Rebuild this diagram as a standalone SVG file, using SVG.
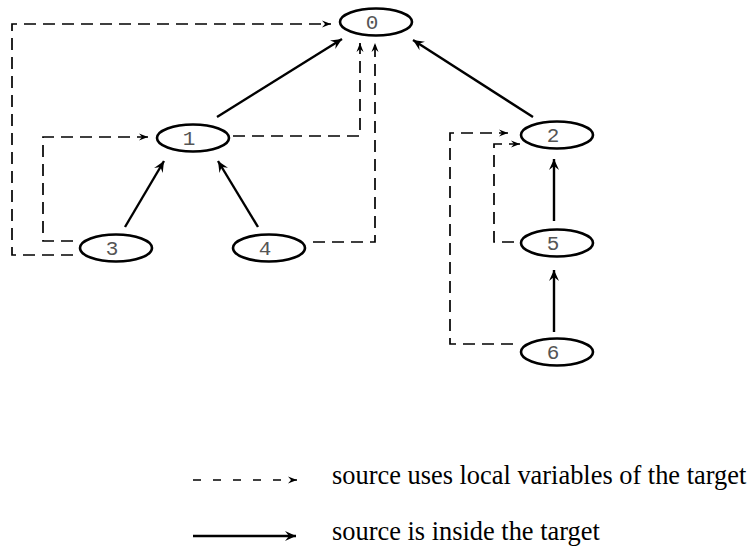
<svg xmlns="http://www.w3.org/2000/svg" width="751" height="546" viewBox="0 0 751 546">
<style>
.node ellipse{fill:#fff;stroke:#000;stroke-width:2.6}
.node text{font-family:"Liberation Mono","DejaVu Sans Mono",monospace;font-size:21px;fill:#555;text-anchor:middle}
.solid{fill:none;stroke:#000;stroke-width:2.4;marker-end:url(#hs)}
.dash{fill:none;stroke:#000;stroke-width:1.7;stroke-dasharray:12 7;marker-end:url(#hd)}
.legend{font-family:"Liberation Serif","Times New Roman",serif;font-size:26.4px;fill:#000}
</style>
<defs>
<marker id="hs" markerUnits="userSpaceOnUse" viewBox="-12 -6 13 12" refX="0" refY="0" markerWidth="13" markerHeight="12" orient="auto">
<path d="M0,0 L-11,-5 L-7,0 L-11,5 Z" fill="#000"/>
</marker>
<marker id="hd" markerUnits="userSpaceOnUse" viewBox="-10 -5 11 10" refX="0" refY="0" markerWidth="11" markerHeight="10" orient="auto">
<path d="M0,0 L-9,-3.5 L-6,0 L-9,3.5 Z" fill="#000"/>
</marker>
</defs>
<g id="connectors">
<path class="solid" d="M217,117 L342,39"/>
<path class="solid" d="M533,117 L413,40"/>
<path class="solid" d="M125,227 L164,161"/>
<path class="solid" d="M258,227 L218,161"/>
<path class="solid" d="M554,221 L554,159"/>
<path class="solid" d="M554,332 L554,270"/>
<path class="dash" d="M73,255 H12 V24 H331"/>
<path class="dash" d="M73,241 H43 V137 H148"/>
<path class="dash" d="M233,136 H360 V43"/>
<path class="dash" d="M313,242 H375 V43"/>
<path class="dash" d="M514,242 H494 V144 H520"/>
<path class="dash" d="M513,344 H450 V133 H508"/>
</g>
<g id="n0" class="node"><ellipse cx="376" cy="22" rx="36" ry="13.5"/><text x="372" y="29">0</text></g>
<g id="n1" class="node"><ellipse cx="193" cy="138" rx="36" ry="13.5"/><text x="189" y="145">1</text></g>
<g id="n2" class="node"><ellipse cx="557" cy="135" rx="36" ry="13.5"/><text x="553" y="142">2</text></g>
<g id="n3" class="node"><ellipse cx="116" cy="248" rx="36" ry="13.5"/><text x="112" y="255">3</text></g>
<g id="n4" class="node"><ellipse cx="269" cy="248" rx="36" ry="13.5"/><text x="265" y="255">4</text></g>
<g id="n5" class="node"><ellipse cx="557" cy="243" rx="36" ry="13.5"/><text x="553" y="250">5</text></g>
<g id="n6" class="node"><ellipse cx="557" cy="352" rx="36" ry="13.5"/><text x="553" y="359">6</text></g>
<g id="legend">
<path d="M193,480 H297" fill="none" stroke="#000" stroke-width="1.3" stroke-dasharray="8 12" marker-end="url(#hd)"/>
<path d="M193,536 H296" fill="none" stroke="#000" stroke-width="2.6" marker-end="url(#hs)"/>
<text class="legend" x="332" y="484">source uses local variables of the target</text>
<text class="legend" x="332" y="540">source is inside the target</text>
</g>
</svg>
